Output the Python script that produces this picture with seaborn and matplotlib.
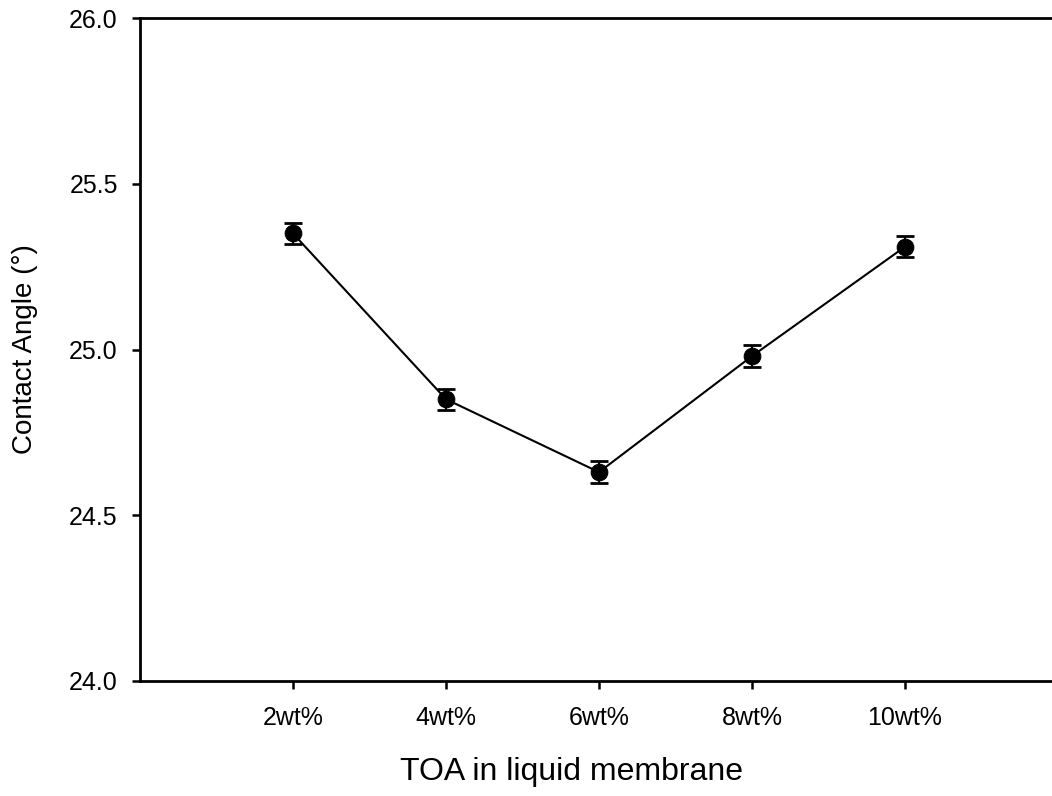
import matplotlib
matplotlib.use("Agg")
import matplotlib.pyplot as plt
import seaborn as sns
import pandas as pd

# TOA loading in the liquid membrane and measured contact angles
toa_labels = ["2wt%", "4wt%", "6wt%", "8wt%", "10wt%"]
contact_angle = [25.35, 24.85, 24.63, 24.98, 25.31]
angle_err = [0.033, 0.032, 0.034, 0.033, 0.032]
y_ticks = [24.0, 24.5, 25.0, 25.5, 26.0]

positions = list(range(1, len(toa_labels) + 1))
df = pd.DataFrame({"pos": positions, "angle": contact_angle, "err": angle_err})

sns.set_style("white")
plt.rcParams["font.family"] = ["Liberation Sans", "DejaVu Sans"]

fig = plt.figure(figsize=(10.52, 7.96), dpi=100)
ax = fig.add_axes([140 / 1052, 115 / 796, 918 / 1052, 663 / 796])

sns.lineplot(data=df, x="pos", y="angle", ax=ax, color="black", linewidth=1.5,
             marker="o", markersize=12, markeredgecolor="black",
             markerfacecolor="black", zorder=3)
ax.errorbar(df["pos"], df["angle"], yerr=df["err"], fmt="none", ecolor="black",
            elinewidth=1.5, capsize=6.5, capthick=2, zorder=4)

ax.set_xlim(0, 6)
ax.set_ylim(24.0, 26.0)
ax.set_xticks(positions)
ax.set_xticklabels(toa_labels)
ax.set_yticks(y_ticks)
ax.set_yticklabels([f"{v:.1f}" for v in y_ticks])

ax.tick_params(axis="both", which="major", direction="out", length=6, width=1.8,
               color="black", labelsize=18, labelcolor="black",
               bottom=True, left=True, top=False, right=False)
ax.tick_params(axis="x", pad=12)
ax.tick_params(axis="y", pad=10)

for side in ["left", "bottom", "top"]:
    ax.spines[side].set_visible(True)
    ax.spines[side].set_color("black")
    ax.spines[side].set_linewidth(2)
ax.spines["right"].set_visible(False)

ax.set_xlabel("TOA in liquid membrane", fontsize=23, color="black")
ax.xaxis.set_label_coords(0.47, -0.115)
ax.set_ylabel("Contact Angle (°)", fontsize=20, labelpad=22, color="black")

fig.savefig("out.png", dpi=100)
